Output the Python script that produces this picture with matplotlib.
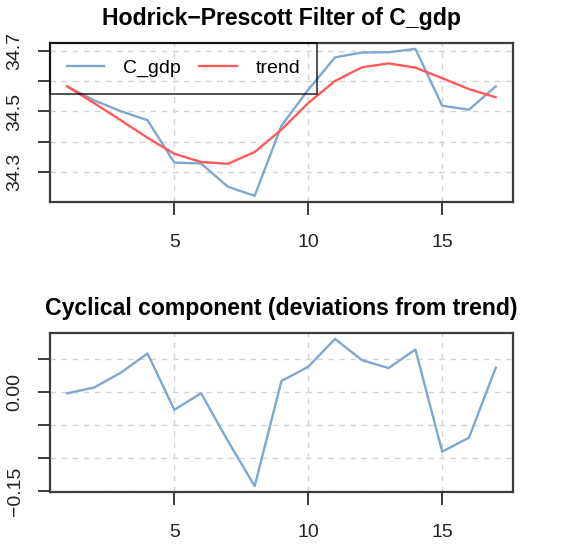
import numpy as np
import matplotlib.pyplot as plt

plt.rcParams['font.family'] = ['Liberation Sans', 'DejaVu Sans']

obs = np.arange(1, 18)
c_gdp = [34.583, 34.537, 34.501, 34.471, 34.331, 34.328, 34.251, 34.221, 34.453,
         34.572, 34.679, 34.695, 34.696, 34.707, 34.519, 34.506, 34.583]
trend = [34.583, 34.528, 34.471, 34.413, 34.360, 34.333, 34.327, 34.366, 34.440,
         34.528, 34.601, 34.646, 34.659, 34.645, 34.610, 34.574, 34.547]
cycle = [-0.002, 0.0065, 0.029, 0.058, -0.027, -0.002, -0.074, -0.142, 0.0165,
         0.038, 0.080, 0.048, 0.036, 0.064, -0.090, -0.069, 0.0366]

top_ticks = [34.3, 34.4, 34.5, 34.6, 34.7]
top_labels = ['34.3', '', '34.5', '', '34.7']
bot_ticks = [-0.15, -0.10, -0.05, 0.00, 0.05]
bot_labels = ['\u22120.15', '', '', '0.00', '']
x_ticks = [5, 10, 15]

blue = '#7fa7cf'
red = '#ff5a5a'
box_col = '#3c3c3c'
fs = 14


def style_axes(ax, yticks, ylabels):
    ax.set_xlim(0.36, 17.64)
    ax.set_xticks(x_ticks)
    ax.set_yticks(yticks)
    ax.set_yticklabels(ylabels)
    ax.grid(True, color='#d3d3d3', linestyle=(0, (4, 4)), linewidth=1.0)
    ax.set_axisbelow(True)
    for s in ax.spines.values():
        s.set_color(box_col)
        s.set_linewidth(1.6)
    ax.tick_params(axis='both', direction='out', length=9, width=1.4,
                   color=box_col, labelsize=fs, labelcolor='#222222')
    ax.tick_params(axis='x', pad=14)
    ax.tick_params(axis='y', pad=10)
    for lbl in ax.get_yticklabels():
        lbl.set_rotation(90)
        lbl.set_va('center')


fig = plt.figure(figsize=(5.83, 5.44), dpi=100)

# Top panel: series and HP trend
ax1 = fig.add_axes([0.0858, 0.6287, 0.794, 0.2923])
ax1.plot(obs, c_gdp, color=blue, linewidth=1.7, label='C_gdp')
ax1.plot(obs, trend, color=red, linewidth=1.7, label='trend')
ax1.set_ylim(34.2006, 34.7266)
style_axes(ax1, top_ticks, top_labels)
ax1.set_title('Hodrick\u2212Prescott Filter of C_gdp', fontsize=16.6,
              fontweight='bold', pad=13)
leg = ax1.legend(loc='upper left', ncol=2, fontsize=fs, frameon=True,
                 fancybox=False, borderaxespad=0, borderpad=0.85,
                 handlelength=1.95, handletextpad=0.95, columnspacing=0.95)
leg.get_frame().set_facecolor('none')
leg.get_frame().set_edgecolor('black')
leg.get_frame().set_linewidth(1.2)

# Bottom panel: cyclical component
ax2 = fig.add_axes([0.0858, 0.0956, 0.794, 0.2923])
ax2.plot(obs, cycle, color=blue, linewidth=1.7)
ax2.set_ylim(-0.1509, 0.0889)
style_axes(ax2, bot_ticks, bot_labels)
ax2.set_title('Cyclical component (deviations from trend)', fontsize=16.6,
              fontweight='bold', pad=13)

plt.savefig('out.png', dpi=100)
